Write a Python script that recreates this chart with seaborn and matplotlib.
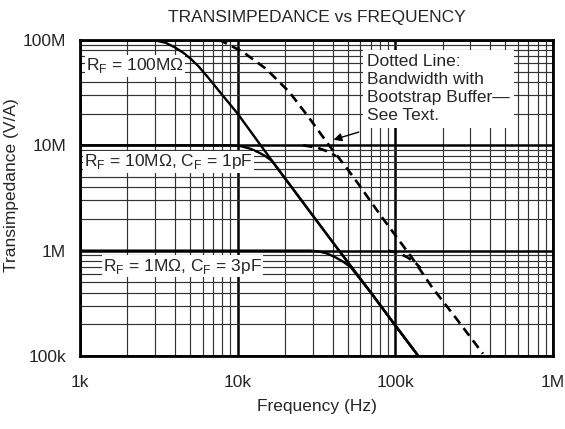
import matplotlib
matplotlib.use('Agg')
import matplotlib.pyplot as plt
import seaborn as sns
from matplotlib.ticker import FixedLocator, FixedFormatter, LogLocator, NullFormatter

sns.set_style('white')
plt.rcParams['font.family'] = ['Liberation Sans', 'DejaVu Sans']
plt.rcParams['mathtext.fontset'] = 'custom'
plt.rcParams['mathtext.rm'] = 'Liberation Sans'

# values (Hz, V/A)
f_100m = [1e3, 3.0e3, 3.5e3, 4.0e3, 4.5e3, 5.0e3, 5.6e3, 6.5e3, 8.0e3, 10e3, 14e3, 19.5e3, 30e3, 44e3, 70e3, 100e3, 140e3]
z_100m = [100e6, 99e6, 94e6, 85e6, 76e6, 67e6, 57e6, 44e6, 30e6, 20e6, 10e6, 5.1e6, 2.15e6, 1e6, 0.4e6, 0.195e6, 0.1e6]

f_10m = [1e3, 9e3, 10.5e3, 12e3, 13.5e3, 15e3, 16.5e3, 19.5e3, 30e3, 44e3, 70e3, 100e3, 140e3]
z_10m = [10e6, 10e6, 9.8e6, 9.3e6, 8.6e6, 7.9e6, 7.1e6, 5.1e6, 2.15e6, 1e6, 0.4e6, 0.195e6, 0.1e6]

f_1m = [1e3, 29e3, 33e3, 37e3, 42e3, 47e3, 52e3, 58e3, 70e3, 100e3, 140e3]
z_1m = [1e6, 1e6, 0.98e6, 0.94e6, 0.86e6, 0.78e6, 0.7e6, 0.57e6, 0.4e6, 0.195e6, 0.1e6]

# bootstrap buffer (dotted) curves
f_bs = [6e3, 7.9e3, 10.8e3, 15.2e3, 21.3e3, 28.6e3, 38e3, 48.7e3, 59e3, 80e3, 103e3, 128e3, 171e3, 242e3, 360e3]
z_bs = [100e6, 98e6, 77e6, 53e6, 32e6, 18e6, 10e6, 6.2e6, 4.2e6, 2.2e6, 1.32e6, 0.85e6, 0.45e6, 0.23e6, 0.105e6]
f_bs10 = [26e3, 32e3, 38e3, 42e3]
z_bs10 = [10e6, 9.5e6, 8.65e6, 7.9e6]
f_bs1 = [90e3, 105e3, 120e3, 135e3, 145e3]
z_bs1 = [1e6, 0.95e6, 0.86e6, 0.76e6, 0.68e6]

x_ticks = [1e3, 1e4, 1e5, 1e6]
x_labels = ['1k', '10k', '100k', '1M']
y_ticks = [1e5, 1e6, 1e7, 1e8]
y_labels = ['100k', '1M', '10M', '100M']

fig = plt.figure(figsize=(5.65, 4.29), dpi=100)
ax = fig.add_axes([0.1416, 0.1702, 0.837, 0.7366])

for f, z in [(f_100m, z_100m), (f_10m, z_10m), (f_1m, z_1m)]:
    sns.lineplot(x=f, y=z, ax=ax, color='black', lw=1.7, sort=False, estimator=None)
for f, z in [(f_bs, z_bs), (f_bs10, z_bs10), (f_bs1, z_bs1)]:
    sns.lineplot(x=f, y=z, ax=ax, color='black', lw=1.9, sort=False, estimator=None,
                 linestyle=(0, (3.6, 2.2)))

ax.set_xscale('log')
ax.set_yscale('log')
ax.set_xlim(1e3, 1e6)
ax.set_ylim(1e5, 1e8)
ax.xaxis.set_major_locator(FixedLocator(x_ticks))
ax.xaxis.set_major_formatter(FixedFormatter(x_labels))
ax.yaxis.set_major_locator(FixedLocator(y_ticks))
ax.yaxis.set_major_formatter(FixedFormatter(y_labels))
ax.xaxis.set_minor_locator(LogLocator(base=10, subs=range(2, 10)))
ax.yaxis.set_minor_locator(LogLocator(base=10, subs=range(2, 10)))
ax.xaxis.set_minor_formatter(NullFormatter())
ax.yaxis.set_minor_formatter(NullFormatter())
ax.grid(which='major', color='black', lw=1.8)
ax.grid(which='minor', color='#333333', lw=0.85)
ax.tick_params(which='both', length=0, labelsize=12.5)
ax.tick_params(axis='x', pad=14)
ax.tick_params(axis='y', pad=10)
for s in ax.spines.values():
    s.set_color('black')
    s.set_linewidth(2.0)

box = dict(facecolor='white', edgecolor='none', pad=1.0)
ax.text(1.09e3, 57e6, r'R$_\mathregular{F}$ = 100MΩ', fontsize=12.5, va='center', bbox=box)
ax.text(1.06e3, 7.0e6, r'R$_\mathregular{F}$ = 10MΩ, C$_\mathregular{F}$ = 1pF', fontsize=12.5, va='center', bbox=box)
ax.text(1.4e3, 0.71e6, r'R$_\mathregular{F}$ = 1MΩ, C$_\mathregular{F}$ = 3pF', fontsize=12.5, va='center', bbox=box)
ax.text(66e3, 73e6, 'Dotted Line:\nBandwidth with\nBootstrap Buffer—\nSee Text.',
        fontsize=12.5, va='top', ha='left', linespacing=1.25,
        bbox=dict(facecolor='white', edgecolor='none', pad=3))
ax.annotate('', xy=(39e3, 11.1e6), xytext=(61e3, 13.6e6),
            arrowprops=dict(arrowstyle='-|>', color='black', lw=1.0, mutation_scale=12))

ax.set_title('TRANSIMPEDANCE vs FREQUENCY', fontsize=12.5, pad=13)
ax.set_xlabel('Frequency (Hz)', fontsize=12.5, labelpad=6)
ax.set_ylabel('Transimpedance (V/A)', fontsize=12.5)
ax.yaxis.set_label_coords(-0.128, 0.54)

fig.savefig('out.png', dpi=100)
